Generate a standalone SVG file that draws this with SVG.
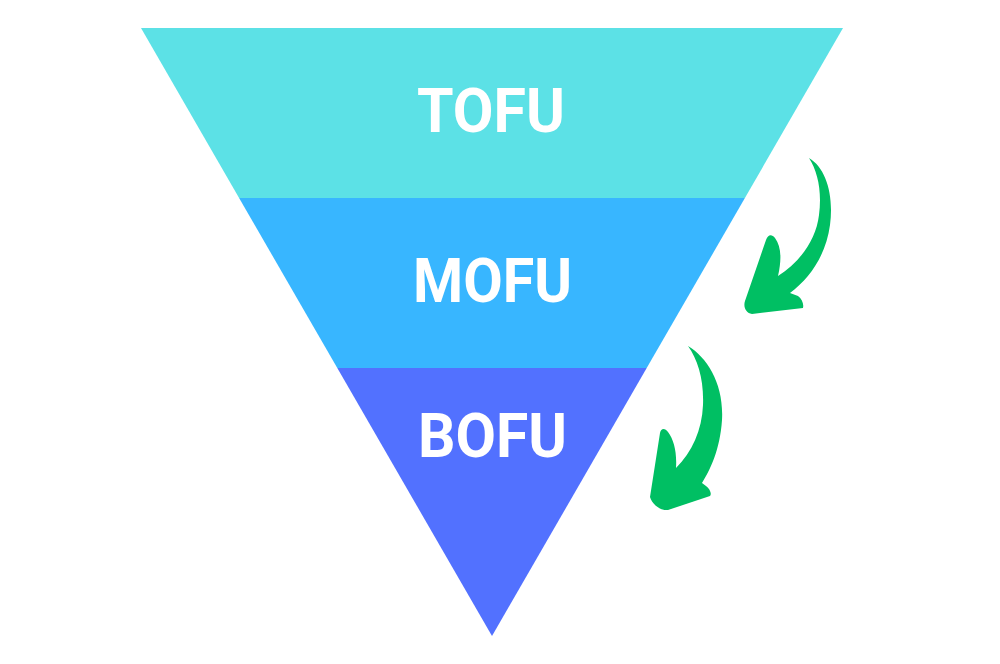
<svg xmlns="http://www.w3.org/2000/svg" width="1000" height="664" viewBox="0 0 1000 664">
<style>
.lbl{font-family:Roboto,"Open Sans","Liberation Sans",sans-serif;font-weight:700;font-size:62px;fill:#ffffff;text-anchor:middle}
.arr{fill:#00BF63}
</style>
<rect width="1000" height="664" fill="#ffffff"/>
<g id="tofu">
<polygon points="141,28 843,28 744.9,198 239.1,198" fill="#5CE1E6"/>
<text class="lbl" x="491" y="132" textLength="148" lengthAdjust="spacingAndGlyphs">TOFU</text>
</g>
<g id="mofu">
<polygon points="239.1,198 744.9,198 646.7,368 337.3,368" fill="#38B6FF"/>
<text class="lbl" x="492.5" y="302" textLength="159" lengthAdjust="spacingAndGlyphs">MOFU</text>
</g>
<g id="bofu">
<polygon points="337.3,368 646.7,368 492,636" fill="#5271FF"/>
<text class="lbl" x="492.5" y="457" textLength="149" lengthAdjust="spacingAndGlyphs">BOFU</text>
</g>
<g id="connectors">
<path class="arr" d="M 809 158 C 826 168, 834 195, 830 225 C 826 255, 810 278, 790 293 L 798 296 C 802 299, 804 304, 803 308 L 752 314 C 746 313, 743 307, 745 301 L 766 240 C 768 234, 772 234, 775 238 C 781 246, 782 258, 778 276 C 800 262, 816 240, 819 215 C 822 192, 818 172, 809 158 Z"/>
<path class="arr" d="M 688 346 C 708 358, 724 385, 722 420 C 720 450, 710 470, 702 483 L 706 486 C 710 489, 712 494, 710 496 L 668 510 C 660 511, 652 504, 650 497 L 660 433 C 661 428, 665 428, 668 432 C 674 440, 677 452, 676 468 C 692 452, 702 430, 703 405 C 704 380, 698 360, 688 346 Z"/>
</g>
</svg>
